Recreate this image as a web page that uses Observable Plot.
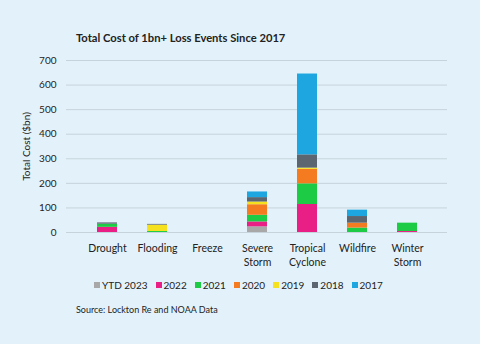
<!DOCTYPE html>
<html>
<head>
<meta charset="utf-8">
<script src="https://cdn.jsdelivr.net/npm/d3@7"></script>
<script src="https://cdn.jsdelivr.net/npm/@observablehq/plot@0.6"></script>
<style>
  html, body { margin: 0; padding: 0; }
  body { width: 480px; height: 344px; background: #e3f2fa; font-family: Lato, "Open Sans", sans-serif; position: relative; overflow: hidden; color: #222; }
  #title { position: absolute; left: 76px; top: 31px; font-size: 11.2px; font-weight: 700; }
  #chart { position: absolute; left: 0; top: 0; }
  #legend { position: absolute; left: 94px; top: 279px; display: flex; align-items: center; font-size: 10px; }
  #legend .item { display: flex; align-items: center; margin-right: 8px; }
  #legend .sw { width: 6px; height: 6px; margin-right: 2px; }
  #source { position: absolute; left: 76px; top: 304px; font-size: 9px; }
</style>
</head>
<body>
<div id="chart"></div>
<div id="title">Total Cost of 1bn+ Loss Events Since 2017</div>
<div id="legend"></div>
<div id="source">Source: Lockton Re and NOAA Data</div>
<script>
const categories = ["Drought", "Flooding", "Freeze", "Severe Storm", "Tropical Cyclone", "Wildfire", "Winter Storm"];
const series = ["YTD 2023", "2022", "2021", "2020", "2019", "2018", "2017"];
const colors = ["#a8a8a8", "#ea1f86", "#1ecb45", "#f47b20", "#f6e11e", "#5c6670", "#1ea6e0"];
// values per series, aligned with categories ($bn)
const ytd2023 = [0, 0, 0, 23, 0, 0, 0];
const y2022   = [21, 0, 0, 20, 114, 0, 4];
const y2021   = [13, 4, 0, 27, 84, 18, 34];
const y2020   = [0, 0, 0, 43, 59, 20, 0];
const y2019   = [0, 26, 0, 11, 5, 0, 0];
const y2018   = [5, 3, 0, 18, 54, 27, 0];
const y2017   = [0, 0, 0, 23, 329, 26, 0];
const yTicks = [0, 100, 200, 300, 400, 500, 600, 700];

const seriesValues = [ytd2023, y2022, y2021, y2020, y2019, y2018, y2017];
const data = [];
series.forEach((s, i) => categories.forEach((c, j) => {
  data.push({category: c, series: s, value: seriesValues[i][j]});
}));

const plot = Plot.plot({
  width: 480,
  height: 270,
  marginTop: 60,
  marginBottom: 38,
  marginLeft: 66,
  marginRight: 33,
  style: {background: "transparent", fontFamily: "Lato, 'Open Sans', sans-serif", fontSize: "10.5px", color: "#222"},
  x: {domain: categories, padding: 0.6},
  y: {domain: [0, 700]},
  color: {domain: series, range: colors},
  marks: [
    Plot.gridY(yTicks, {stroke: "#c6d3db", strokeOpacity: 1, strokeWidth: 1}),
    Plot.barY(data, {x: "category", y: "value", fill: "series", order: series}),
    Plot.axisX({tickSize: 0, tickPadding: 9, fontSize: 10.5, lineHeight: 1.35,
      tickFormat: d => d.replace(" ", "\n"), label: null}),
    Plot.axisY({ticks: yTicks, tickSize: 0, tickPadding: 10, fontSize: 10,
      label: "Total Cost ($bn)", labelAnchor: "center", labelArrow: "none", labelOffset: 44})
  ]
});
document.getElementById("chart").appendChild(plot);

const legend = document.getElementById("legend");
series.forEach((s, i) => {
  const item = document.createElement("div");
  item.className = "item";
  const sw = document.createElement("span");
  sw.className = "sw";
  sw.style.background = colors[i];
  const t = document.createElement("span");
  t.textContent = s;
  item.appendChild(sw); item.appendChild(t);
  legend.appendChild(item);
});
</script>
</body>
</html>
